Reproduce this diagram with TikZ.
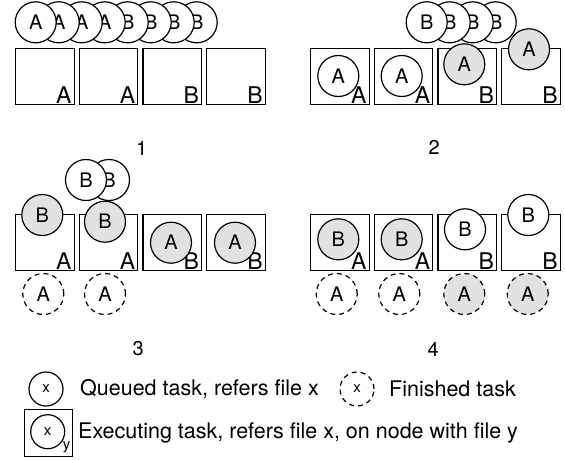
\documentclass[tikz,border=0pt]{standalone}
\usepackage{fontspec}
\setmainfont{TeX Gyre Heros}
\usetikzlibrary{positioning}
\definecolor{remotegray}{HTML}{E2E2E2}

\tikzset{
    nodebox/.style={draw, line width=1.2pt, minimum width=58.5pt, minimum height=56.5pt, inner sep=0pt},
    filelabel/.style={font=\fontsize{23}{23}\selectfont, inner sep=0pt, anchor=base east},
    task/.style={circle, draw, fill=white, line width=1.2pt, minimum size=41pt, inner sep=0pt, font=\fontsize{20}{20}\selectfont},
    remote/.style={fill=remotegray},
    finished/.style={dash pattern=on 5pt off 4pt},
    caption/.style={font=\fontsize{20}{20}\selectfont},
    legendtext/.style={font=\fontsize{21.5}{21.5}\selectfont, anchor=west, inner sep=0pt},
    legendtask/.style={task, minimum size=34pt, font=\fontsize{15}{15}\selectfont},
}

\begin{document}
\begin{tikzpicture}[x=1pt, y=-1pt]
    \useasboundingbox (0,0) rectangle (565,459);

    % Worker nodes, four per stage
    \foreach \p/\x/\y in {1/15/47.5, 2/310/47.5, 3/15/213.5, 4/310/213.5} {
        \foreach \i in {1,...,4} {
            \node[nodebox, anchor=north west] (p\p-b\i) at ({\x+63.7*(\i-1)}, \y) {};
        }
    }

    % File held by each node
    \foreach \p in {1,...,4} {
        \foreach \i/\f in {1/A, 2/A, 3/B, 4/B} {
            \node[filelabel] (p\p-f\i) at ([shift={(-3,-2)}]p\p-b\i.south east) {\f};
        }
    }

    % Stage 1: everything queued
    \foreach \i/\f in {8/B, 7/B, 6/B, 5/B, 4/A, 3/A, 2/A, 1/A} {
        \node[task] (q1-\i) at ({35.7+23*(\i-1)}, 22.3) {\f};
    }
    \node[caption] (c1) at (141.7,148) {1};

    % Stage 2
    \foreach \i in {4,3,2,1} {
        \node[task] (q2-\i) at ({426.7+23*(\i-1)}, 22.3) {B};
    }
    \node[task] (e2-1) at (338.3,76) {A};
    \node[task] (e2-2) at (401.7,76) {A};
    \node[task, remote] (e2-3) at (464.3,64.3) {A};
    \node[task, remote] (e2-4) at (529,49.3) {A};
    \node[caption] (c2) at (434.3,147) {2};

    % Stage 3
    \node[task] (q3-2) at (109,180) {B};
    \node[task] (q3-1) at (86,180) {B};
    \node[task, remote] (e3-1) at (42.3,215) {B};
    \node[task, remote] (e3-2) at (105,221.7) {B};
    \node[task, remote] (e3-3) at (171,242.7) {A};
    \node[task, remote] (e3-4) at (235,242.7) {A};
    \node[task, finished] (d3-1) at (43.3,294) {A};
    \node[task, finished] (d3-2) at (105,294) {A};
    \node[caption] (c3) at (138.3,349) {3};

    % Stage 4
    \node[task, remote] (e4-1) at (338.3,239.3) {B};
    \node[task, remote] (e4-2) at (401.7,239.3) {B};
    \node[task] (e4-3) at (465,229.3) {B};
    \node[task] (e4-4) at (528.3,215) {B};
    \node[task, finished] (d4-1) at (336.7,294) {A};
    \node[task, finished] (d4-2) at (399.3,294) {A};
    \node[task, finished, remote] (d4-3) at (464.3,294) {A};
    \node[task, finished, remote] (d4-4) at (527.7,294) {A};
    \node[caption] (c4) at (433.3,349) {4};

    % Legend
    \node[legendtask] (lq) at (46,389) {x};
    \node[legendtext] (lqt) at (80,389) {Queued task, refers file x};
    \node[legendtask, finished] (lf) at (357,389) {x};
    \node[legendtext] (lft) at (389,389) {Finished task};
    \node[draw, line width=1.2pt, minimum width=48.4pt, minimum height=47.4pt, inner sep=0pt] (lb) at (48.5,433) {};
    \node[legendtask] (le) at (47.7,431.7) {x};
    \node[font=\fontsize{15}{15}\selectfont, inner sep=0pt] (ly) at (66.7,446.7) {y};
    \node[legendtext] (let) at (78,433) {Executing task, refers file x, on node with file y};
\end{tikzpicture}
\end{document}
